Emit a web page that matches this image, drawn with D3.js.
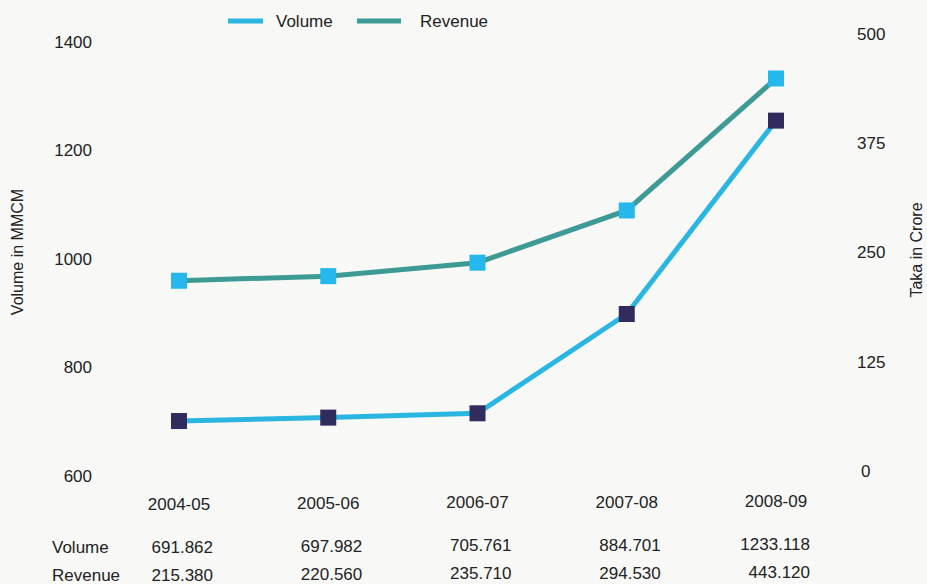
<!DOCTYPE html>
<html>
<head>
<meta charset="utf-8">
<script src="https://cdn.jsdelivr.net/npm/d3@7"></script>
<style>
  body { margin: 0; background: #f8f8f7; }
  svg { display: block; font-family: "Liberation Sans", Arial, sans-serif; }
  text { fill: #222; }
</style>
</head>
<body>
<svg id="chart"></svg>
<script>
// Data
const years = ["2004-05", "2005-06", "2006-07", "2007-08", "2008-09"];
const volume = [691.862, 697.982, 705.761, 884.701, 1233.118];
const revenue = [215.380, 220.560, 235.710, 294.530, 443.120];
const volumeTicks = [600, 800, 1000, 1200, 1400];
const revenueTicks = [0, 125, 250, 375, 500];

const width = 927, height = 584;

const svg = d3.select("#chart")
    .attr("width", width)
    .attr("height", height);

// X scale: centres of the year columns
const x = d3.scalePoint()
    .domain(years)
    .range([179, 776]);

// Left and right Y scales
const yLeft = d3.scaleLinear()
    .domain([600, 1400])
    .range([472, 28]);

const yRight = d3.scaleLinear()
    .domain([0, 500])
    .range([472, 28]);

// Left axis (labels only)
const leftAxis = svg.append("g")
    .attr("transform", "translate(92,0)")
    .call(d3.axisLeft(yLeft).tickValues(volumeTicks).tickFormat(d3.format("d")).tickSize(0).tickPadding(0));
leftAxis.select(".domain").remove();
leftAxis.selectAll("text")
    .attr("dy", "0.32em")
    .attr("transform", d => `translate(0,${4 + (d - 600) / 800 * 10})`)
    .style("font-size", "17px")
    .style("font-family", "Liberation Sans, Arial, sans-serif")
    .attr("fill", "#222");

// Right axis (labels only)
const rightAxis = svg.append("g")
    .attr("transform", "translate(857,0)")
    .call(d3.axisRight(yRight).tickValues(revenueTicks).tickSize(0).tickPadding(0));
rightAxis.select(".domain").remove();
rightAxis.selectAll("text")
    .attr("dy", "0.32em")
    .attr("transform", d => `translate(${d === 0 ? 4 : 0},${d / 500 * 7 - 1})`)
    .style("font-size", "17px")
    .style("font-family", "Liberation Sans, Arial, sans-serif")
    .attr("fill", "#222");

// Axis titles
svg.append("text")
    .attr("transform", "translate(23,252) rotate(-90)")
    .attr("text-anchor", "middle")
    .style("font-size", "16px")
    .text("Volume in MMCM");

svg.append("text")
    .attr("transform", "translate(922,250) rotate(-90)")
    .attr("text-anchor", "middle")
    .style("font-size", "16px")
    .text("Taka in Crore");

// Lines
const volumeLine = d3.line()
    .x((d, i) => x(years[i]))
    .y(d => yLeft(d));

const revenueLine = d3.line()
    .x((d, i) => x(years[i]))
    .y(d => yRight(d));

svg.append("path")
    .datum(revenue)
    .attr("fill", "none")
    .attr("stroke", "#3e9a94")
    .attr("stroke-width", 5)
    .attr("d", revenueLine);

svg.append("path")
    .datum(volume)
    .attr("fill", "none")
    .attr("stroke", "#2bb6e2")
    .attr("stroke-width", 5)
    .attr("d", volumeLine);

// Markers
const sq = 16;
svg.selectAll(".rev-pt")
    .data(revenue)
    .enter()
    .append("rect")
    .attr("class", "rev-pt")
    .attr("x", (d, i) => x(years[i]) - sq / 2)
    .attr("y", d => yRight(d) - sq / 2)
    .attr("width", sq)
    .attr("height", sq)
    .attr("fill", "#24b8ec");

svg.selectAll(".vol-pt")
    .data(volume)
    .enter()
    .append("rect")
    .attr("class", "vol-pt")
    .attr("x", (d, i) => x(years[i]) - sq / 2)
    .attr("y", d => yLeft(d) - sq / 2)
    .attr("width", sq)
    .attr("height", sq)
    .attr("fill", "#302c5e");

// Legend
const legend = [
    { name: "Volume", color: "#2bb6e2", x1: 228, x2: 263, tx: 276 },
    { name: "Revenue", color: "#3e9a94", x1: 357, x2: 401, tx: 420 }
];
legend.forEach(l => {
    svg.append("line")
        .attr("x1", l.x1).attr("x2", l.x2)
        .attr("y1", 21).attr("y2", 21)
        .attr("stroke", l.color)
        .attr("stroke-width", 5);
    svg.append("text")
        .attr("x", l.tx)
        .attr("y", 27)
        .style("font-size", "17px")
        .text(l.name);
});

// Year labels
svg.selectAll(".year")
    .data(years)
    .enter()
    .append("text")
    .attr("class", "year")
    .attr("x", d => x(d))
    .attr("y", (d, i) => 510 - i * 0.8)
    .attr("text-anchor", "middle")
    .style("font-size", "17px")
    .text(d => d);

// Data table
const rows = [
    { name: "Volume", values: volume, y: 553 },
    { name: "Revenue", values: revenue, y: 581 }
];
rows.forEach(r => {
    svg.append("text")
        .attr("x", 52)
        .attr("y", r.y)
        .style("font-size", "17px")
        .text(r.name);
    svg.selectAll(null)
        .data(r.values)
        .enter()
        .append("text")
        .attr("x", (d, i) => x(years[i]) + 34)
        .attr("y", (d, i) => r.y - i * 0.8)
        .attr("text-anchor", "end")
        .style("font-size", "17px")
        .text(d => d3.format(".3f")(d));
});
</script>
</body>
</html>
